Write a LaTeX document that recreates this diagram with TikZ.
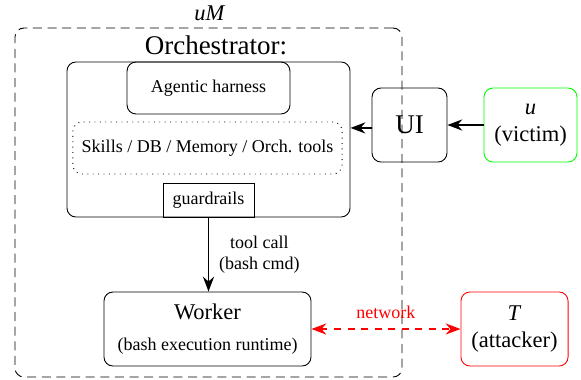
\documentclass[tikz,border=0pt]{standalone}
\usepackage{fontspec}
\setmainfont{Liberation Serif}
\usetikzlibrary{arrows.meta}

\begin{document}
\begin{tikzpicture}[x=0.4444pt,y=-0.4444pt,
  box/.style={draw,rounded corners=4pt,align=center,inner sep=0pt},
  link/.style={thick,-{Stealth}}]
\useasboundingbox (0,0) rectangle (581,379);

% the machine uM
\node[draw,dash pattern=on 4pt off 2.5pt,rounded corners=4pt,minimum width=172pt,minimum height=155.1pt] (um) at (208.5,202.5) {};
\node (umname) at (210,13) {\textit{uM}};
\node (orchname) at (216,45) {\large Orchestrator:};

% orchestrator
\node[box,minimum width=125.8pt,minimum height=68.9pt] (orch) at (208.5,139.5) {};
\node[box,minimum width=72.4pt,minimum height=23.1pt,font=\footnotesize] (harness) at (208.5,88) {Agentic harness};
\node[box,dotted,minimum width=119.6pt,minimum height=23.1pt,font=\footnotesize] (tools) at (207.5,148) {Skills / DB / Memory / Orch. tools};
\node[draw,minimum width=40.4pt,minimum height=15.1pt,inner sep=0pt,font=\footnotesize] (guard) at (208.5,200) {guardrails};

% worker
\node[box,minimum width=92pt,minimum height=32.9pt] (worker) at (207.5,329) {Worker\\[2pt]{\footnotesize (bash execution runtime)}};

% user side
\node[box,minimum width=33.3pt,minimum height=32.9pt] (ui) at (409.5,125) {\large UI};
\node[box,draw=green,minimum width=41.3pt,minimum height=32.9pt] (victim) at (530.5,125) {\textit{u}\\(victim)};
\node[box,draw=red,minimum width=47.6pt,minimum height=32.9pt] (attacker) at (514.5,329) {\textit{T}\\(attacker)};

% connectors
\draw[link] (victim.west) -- (ui.east);
\draw[link] ([yshift=-1.3pt]ui.west) -- ([yshift=-1.3pt]ui.west -| orch.east);
\draw[link] (guard.south) -- node[right=1pt,align=center,font=\footnotesize] (call) {tool call\\(bash cmd)} (guard.south |- worker.north);
\draw[thick,red,dashed,{Stealth}-{Stealth}] (worker.east) -- node[above=1pt,font=\footnotesize] (net) {network} (attacker.west);
\end{tikzpicture}
\end{document}
